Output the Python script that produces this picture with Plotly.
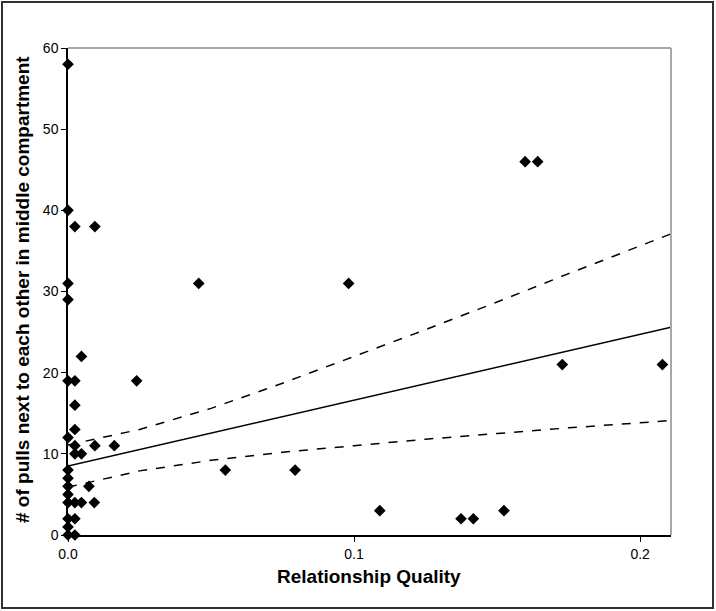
import plotly.graph_objects as go

# Scatter data (Relationship Quality vs # of pulls)
rq = [0, 0, 0, 0, 0, 0, 0, 0, 0, 0, 0, 0, 0, 0,
      0.0024, 0.0024, 0.0024, 0.0024, 0.0024, 0.0024, 0.0024, 0.0024, 0.0024,
      0.0047, 0.0047, 0.0047,
      0.0073,
      0.0094, 0.0092, 0.0094,
      0.0162, 0.024, 0.0457, 0.055, 0.0794, 0.0981, 0.109,
      0.1374, 0.1417, 0.1524, 0.1598, 0.1642, 0.1728, 0.2078]
pulls = [58, 40, 31, 29, 19, 12, 8, 7, 6, 5, 4, 2, 1, 0,
         38, 19, 16, 13, 11, 10, 4, 2, 0,
         22, 10, 4,
         6,
         38, 4, 11,
         11, 19, 31, 8, 8, 31, 3,
         2, 2, 3, 46, 46, 21, 21]

# Regression line and confidence band
fit_x = [0, 0.2108]
fit_y = [8.5, 25.6]
band_x = [0, 0.025, 0.05, 0.075, 0.1, 0.125, 0.15, 0.175, 0.2108]
band_upper = [11.1, 13.0, 15.6, 18.7, 22.0, 25.3, 28.7, 32.2, 37.1]
band_lower = [5.9, 7.9, 9.2, 10.2, 11.0, 11.8, 12.5, 13.2, 14.1]

x_ticks = [0, 0.1, 0.2]
x_ticklabels = ["0.0", "0.1", "0.2"]
y_ticks = [0, 10, 20, 30, 40, 50, 60]

W, H = 716, 611
L, R, T, B = 68, 45, 48, 76
pw, ph = W - L - R, H - T - B

fig = go.Figure()
fig.add_trace(go.Scatter(x=band_x, y=band_upper, mode="lines",
                         line=dict(color="black", width=1.5, dash="dash"),
                         hoverinfo="skip", showlegend=False))
fig.add_trace(go.Scatter(x=band_x, y=band_lower, mode="lines",
                         line=dict(color="black", width=1.5, dash="dash"),
                         hoverinfo="skip", showlegend=False))
fig.add_trace(go.Scatter(x=fit_x, y=fit_y, mode="lines",
                         line=dict(color="black", width=1.5),
                         showlegend=False))
fig.add_trace(go.Scatter(x=rq, y=pulls, mode="markers",
                         marker=dict(symbol="diamond", size=9, color="black"),
                         cliponaxis=False, showlegend=False))

font_family = "Liberation Sans, Arial, sans-serif"

fig.update_layout(
    width=W, height=H,
    margin=dict(l=L, r=R, t=T, b=B, pad=0),
    paper_bgcolor="white", plot_bgcolor="white",
    font=dict(family=font_family, size=14, color="black"),
    xaxis=dict(range=[0, 0.2108], tickvals=x_ticks, ticktext=x_ticklabels,
               showgrid=False, zeroline=False, showline=True,
               linecolor="black", linewidth=1.5, ticks="outside",
               ticklen=5, tickcolor="black", tickwidth=1,
               tickfont=dict(size=14, color="black")),
    yaxis=dict(range=[0, 60], tickvals=y_ticks,
               showgrid=False, zeroline=False, showline=True,
               linecolor="black", linewidth=1.5, ticks="outside",
               ticklen=5, tickcolor="black", tickwidth=1,
               tickfont=dict(size=14, color="black")),
    annotations=[
        dict(text="<b>Relationship Quality</b>", xref="paper", yref="paper",
             x=(369 - L) / pw, y=(H - B - 576) / ph, xanchor="center",
             yanchor="middle", showarrow=False,
             font=dict(size=19, family=font_family, color="black")),
        dict(text="<b># of pulls next to each other in middle compartment</b>",
             xref="paper", yref="paper", x=(22 - L) / pw,
             y=(H - B - 290) / ph, xanchor="center", yanchor="middle",
             textangle=-90, showarrow=False,
             font=dict(size=19, family=font_family, color="black")),
    ],
    shapes=[
        # plot-area border on top and right (grey)
        dict(type="line", xref="paper", yref="paper", x0=0, x1=1, y0=1, y1=1,
             line=dict(color="#a8a8a8", width=2)),
        dict(type="line", xref="paper", yref="paper", x0=1, x1=1, y0=0, y1=1,
             line=dict(color="#a8a8a8", width=2)),
        # outer frame
        dict(type="rect", xref="paper", yref="paper",
             x0=(2 - L) / pw, x1=(W - 3 - L) / pw,
             y0=(H - B - (H - 3)) / ph, y1=(H - B - 2) / ph,
             line=dict(color="#303030", width=2)),
    ],
)

fig.write_html("out.html",
               config={"displayModeBar": False},
               post_script="document.body.style.margin='0';"
                           "document.body.style.overflow='hidden';")
